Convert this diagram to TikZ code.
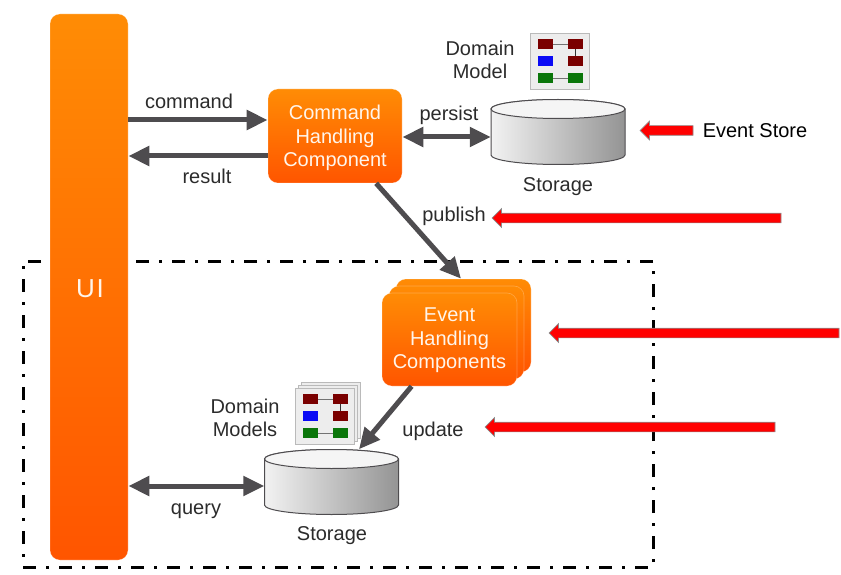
\documentclass[tikz,border=0pt]{standalone}
\usepackage{fontspec}
\setmainfont{Liberation Sans}
\usetikzlibrary{arrows.meta,shapes.arrows}
\definecolor{flowgray}{HTML}{4E4C4F}
\definecolor{inkgray}{HTML}{2B2B2B}
\definecolor{cardtop}{HTML}{FF8C05}
\definecolor{cardbot}{HTML}{FF5500}
\definecolor{iconred}{HTML}{7A0000}
\definecolor{iconblue}{HTML}{0A0AF5}
\definecolor{icongreen}{HTML}{0A760A}
\tikzset{
  every node/.style={inner sep=0pt,font=\fontsize{20}{23.5}\selectfont,text=inkgray,align=center},
  card/.style={rectangle,rounded corners=10pt,top color=cardtop,bottom color=cardbot,draw=white,draw opacity=.25,line width=.6pt,text=white!92!orange},
  flow/.style={flowgray,line width=5pt,-{Triangle[length=21pt,width=19pt]}},
  twoway/.style={flowgray,line width=5pt,{Triangle[length=21pt,width=19pt]}-{Triangle[length=21pt,width=19pt]}},
  redmark/.style={single arrow,shape border rotate=180,draw=black!45,line width=.7pt,fill=red,inner sep=4.5pt,
    single arrow head extend=4.5pt,single arrow head indent=0pt,single arrow tip angle=90},
  sheet/.style={rectangle,minimum width=59pt,minimum height=56pt,anchor=north west,fill=black!7,draw=black!27,line width=1.2pt},
  chip/.style={rectangle,minimum width=15pt,minimum height=10pt},
  drum/.pic={
    \node[rectangle,minimum width=134pt,minimum height=65pt] (-n) at (0,0) {};
    \draw[draw=flowgray,line width=1pt,left color=white!95!black,right color=black!42]
      (-67,-23) arc (180:360:67 and 9.5) -- (67,23) arc (0:180:67 and 9.5) -- cycle;
    \draw[draw=flowgray,line width=1pt,fill=black!4] (0,23) ellipse (67 and 9.5);
  },
  domainicon/.pic={
    \node[sheet] (-s) at (0,0) {};
    \node[chip,fill=iconred] (-a) at (15.5,-11) {};
    \node[chip,fill=iconred] (-b) at (45.5,-11) {};
    \node[chip,fill=iconblue] (-c) at (15.5,-28) {};
    \node[chip,fill=iconred] (-d) at (45.5,-28) {};
    \node[chip,fill=icongreen] (-e) at (15.5,-45) {};
    \node[chip,fill=icongreen] (-f) at (45.5,-45) {};
    \draw[black!55,line width=.8pt] (-a) -- (-b);
    \draw[black!80,line width=.8pt] (-b) -- (-d);
    \draw[black!55,line width=.8pt] (-e) -- (-f);
  }
}
\begin{document}
\begin{tikzpicture}[x=1pt,y=1pt]
  \useasboundingbox (0,0) rectangle (841,-575);
  % read side
  \node[rectangle,draw=black,line width=3pt,dash pattern=on 13pt off 10pt on 3pt off 10pt,
    minimum width=630pt,minimum height=306pt] (readside) at (338,-414) {};
  % components
  \node[card,minimum width=78pt,minimum height=546pt,font=\fontsize{26}{30}\selectfont,text height=22pt] (ui) at (89,-287) {\hspace{2pt}U\kern2pt I};
  \node[card,minimum width=134pt,minimum height=94pt,text height=65.5pt] (cmd) at (335,-136) {Command\\Handling\\Component};
  \node[card,minimum width=135pt,minimum height=93pt] (evtback) at (463.5,-325.5) {};
  \node[card,minimum width=135pt,minimum height=93pt] (evtmid) at (456.5,-332.5) {};
  \node[card,minimum width=135pt,minimum height=93pt,text height=63pt] (evt) at (449.5,-339.5) {Event\\Handling\\Components};
  % storages
  \pic (store) at (558,-132) {drum};
  \pic (readstore) at (331.5,-482) {drum};
  \node (storetext) at (558,-186.5) {Storage};
  \node (readtext) at (332,-535.5) {Storage};
  % domain icons
  \pic (model) at (530,-33) {domainicon};
  \node[sheet] (sheetb) at (301,-382) {};
  \node[sheet] (sheetm) at (298,-385) {};
  \pic (models) at (295,-388) {domainicon};
  \node (modeltext) at (480,-60) {Domain\\Model};
  \node (modelstext) at (245,-418) {Domain\\Models};
  % connectors
  \coordinate (cmdrow) at (0,-120);
  \coordinate (resrow) at (0,-156);
  \coordinate (perrow) at (0,-137);
  \coordinate (qryrow) at (0,-486);
  \draw[flow] (ui.east |- cmdrow) -- (cmd.west |- cmdrow);
  \draw[flow] (cmd.west |- resrow) -- (ui.east |- resrow);
  \draw[twoway] (cmd.east |- perrow) -- (store-n.west |- perrow);
  \draw[twoway] (ui.east |- qryrow) -- (readstore-n.west |- qryrow);
  \draw[flow] (cmd.-49) -- (evtback.93);
  \draw[flow] (evt.-129) -- (readstore-n.50);
  % labels
  \node (cmdlabel) at (189,-101) {command};
  \node (reslabel) at (207,-176) {result};
  \node (perlabel) at (449,-115.5) {persist};
  \node (publabel) at (454,-216) {publish};
  \node (updlabel) at (433,-431) {update};
  \node (qrylabel) at (196,-511) {query};
  \node[text=black] (storelabel) at (755,-131) {Event Store};
  % red marks
  \node[redmark,minimum height=53pt] (markstore) at (669,-130.5) {};
  \node[redmark,minimum height=289pt] (markpub) at (639,-218) {};
  \node[redmark,minimum height=290pt] (markevt) at (696.5,-333) {};
  \node[redmark,minimum height=290pt] (markupd) at (632.5,-427) {};
\end{tikzpicture}
\end{document}
